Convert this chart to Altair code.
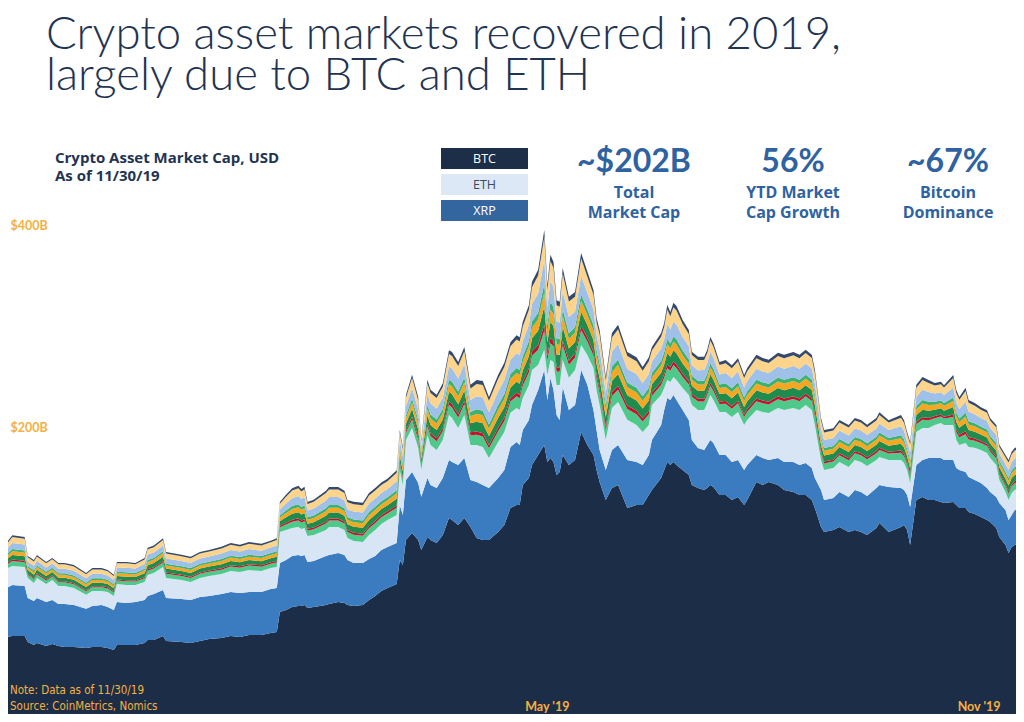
import altair as alt
import pandas as pd

# ---------------- data ----------------
# days since 2019-01-01
day_offsets = [
    0, 2, 4, 8, 9, 11, 12, 15, 17, 19, 21, 24, 28, 30, 33, 35, 37, 38, 41, 44,
    47, 48, 50, 53, 54, 59, 62, 65, 68, 72, 75, 78, 81, 85, 88, 90,
    91, 93, 95, 97, 98, 99, 100, 102, 106, 107, 110, 112, 113, 115, 118, 120, 122, 124, 126, 129,
    130, 131, 132, 134, 136, 137, 139, 140, 142, 144, 146, 147, 149, 151, 153, 155, 157, 159, 162, 164,
    166, 168, 169,
    170, 172, 173, 175, 177, 178, 179, 180, 181, 182, 183, 185, 187, 189, 191, 193, 194, 195, 197, 199,
    201, 204, 207, 209, 211,
    212, 215, 216, 217, 218, 219, 220, 222, 224, 225, 227, 229, 230, 231, 232, 234, 236, 238, 240, 242,
    243, 246, 248, 250, 253, 255, 258, 260, 262, 264, 265, 267, 268, 271, 273, 276, 278, 280, 282, 285,
    286, 289, 293, 294, 295, 296, 298, 300, 302, 304, 306, 307, 310, 311, 312, 314, 315, 317, 319, 321,
    322, 324, 325, 327, 328, 329, 330, 332, 333,
]

# market caps, $B
btc = [
    60.0, 60.7, 61.4, 61.4, 57.1, 55.0, 56.4, 54.3, 55.7, 54.3, 53.6, 53.6, 52.9, 53.6, 53.6, 52.9, 51.4, 55.0, 55.0, 55.0,
    56.4, 58.6, 58.6, 61.4, 57.9, 57.1, 56.4, 57.9, 59.3, 60.0, 61.4, 60.7, 62.1, 62.1, 63.6, 64.3,
    78.6, 80.0, 82.1, 82.9, 82.9, 83.6, 81.4, 82.1, 83.6, 84.3, 85.7, 85.0, 83.6, 82.9, 83.6, 87.1, 90.0, 93.6, 95.7, 98.6,
    115.7, 112.1, 130.0, 135.0, 130.0, 122.9, 132.1, 130.0, 127.9, 133.6, 145.7, 144.3, 140.7, 145.7, 139.3, 131.4, 130.0, 130.0, 135.7, 140.7,
    152.9, 155.0, 155.0,
    169.3, 174.3, 183.6, 190.7, 197.9, 185.7, 188.6, 185.7, 176.4, 178.6, 190.7, 183.6, 187.1, 207.1, 197.9, 190.7, 180.0, 171.4, 158.6, 167.1,
    169.3, 152.9, 155.0, 155.0, 162.1,
    165.7, 174.3, 180.0, 185.7, 183.6, 185.7, 183.6, 180.0, 176.4, 169.3, 167.1, 165.7, 167.1, 169.3, 167.9, 162.1, 162.1, 158.6, 160.7, 155.0,
    158.6, 171.4, 169.3, 171.4, 169.3, 165.7, 164.3, 162.1, 162.1, 158.6, 152.9, 139.3, 135.7, 137.1, 139.3, 135.7, 137.1, 135.7, 133.6, 138.6,
    142.1, 135.7, 139.3, 140.7, 137.1, 126.4, 158.6, 160.7, 158.6, 158.6, 157.1, 156.4, 157.1, 155.0, 152.9, 152.9, 150.0, 148.6, 146.4, 144.3,
    142.9, 138.6, 132.1, 126.4, 120.7, 125.0, 126.4, 127.9, 128.6,
]
xrp = [
    37.1, 35.0, 36.4, 35.7, 31.4, 31.4, 32.1, 31.4, 31.4, 30.0, 30.7, 30.0, 27.9, 29.3, 30.0, 29.3, 28.6, 30.7, 30.0, 30.7,
    30.7, 31.4, 32.9, 32.9, 30.7, 30.7, 30.7, 31.4, 30.7, 31.4, 31.4, 31.4, 30.7, 30.7, 31.4, 31.4,
    35.0, 35.7, 36.4, 36.4, 35.7, 35.7, 32.9, 32.9, 35.0, 35.0, 35.0, 34.3, 32.1, 30.7, 30.0, 29.3, 28.6, 29.3, 29.3, 29.3,
    39.3, 35.7, 42.9, 43.6, 40.7, 37.9, 42.1, 39.3, 39.3, 40.7, 41.4, 41.4, 42.9, 42.9, 33.6, 40.0, 39.3, 37.1, 38.6, 39.3,
    43.6, 45.0, 42.9,
    39.3, 41.4, 42.9, 46.4, 53.6, 44.3, 57.1, 51.4, 42.9, 37.1, 48.6, 39.3, 39.3, 44.3, 42.9, 32.1, 28.6, 22.9, 21.4, 27.1,
    28.6, 34.3, 30.7, 28.6, 28.6,
    35.7, 37.9, 42.9, 45.7, 46.4, 47.9, 46.4, 42.9, 39.3, 32.1, 28.6, 28.6, 30.7, 32.1, 31.4, 28.6, 28.6, 27.1, 26.4, 25.0,
    25.0, 19.3, 19.3, 15.7, 19.3, 20.0, 21.4, 21.4, 22.9, 22.9, 21.4, 26.4, 22.9, 22.9, 25.0, 25.0, 28.6, 28.6, 27.9, 28.6,
    27.1, 32.1, 27.9, 25.0, 25.0, 27.1, 25.0, 26.4, 30.0, 30.0, 31.4, 30.7, 30.0, 26.4, 27.1, 25.7, 25.0, 24.3, 24.3, 22.9,
    21.4, 22.1, 24.3, 25.0, 23.6, 22.9, 25.0, 25.7, 26.4,
]
eth = [
    12.9, 13.6, 13.6, 13.6, 14.3, 12.9, 14.3, 12.9, 14.3, 12.9, 12.9, 12.1, 10.0, 10.7, 10.0, 10.7, 10.0, 12.9, 12.9, 12.1,
    12.9, 15.0, 15.0, 16.4, 14.3, 13.6, 12.9, 13.6, 14.3, 14.3, 15.0, 15.0, 15.7, 15.0, 15.0, 15.0,
    22.1, 21.4, 20.0, 20.0, 19.3, 19.3, 18.6, 18.6, 18.6, 20.0, 18.6, 17.9, 15.7, 15.7, 15.0, 17.1, 18.6, 18.6, 19.3, 20.0,
    25.0, 21.4, 28.6, 31.4, 25.0, 19.3, 30.7, 28.6, 27.1, 27.1, 32.1, 31.4, 26.4, 30.7, 25.0, 26.4, 27.1, 21.4, 25.7, 27.1,
    24.3, 24.3, 25.0,
    22.9, 25.0, 25.0, 17.9, 14.3, 17.9, 12.9, 20.0, 21.4, 25.0, 19.3, 22.9, 25.0, 17.9, 21.4, 30.0, 28.6, 32.1, 21.4, 30.0,
    30.7, 28.6, 26.4, 23.6, 21.4,
    25.0, 21.4, 15.7, 12.9, 12.9, 12.9, 14.3, 15.7, 17.9, 25.0, 27.1, 28.6, 30.0, 32.1, 30.7, 30.7, 30.7, 32.1, 34.3, 32.1,
    32.1, 32.1, 32.9, 33.6, 35.7, 37.1, 38.6, 39.3, 41.4, 41.4, 37.9, 21.4, 21.4, 21.4, 21.4, 21.4, 21.4, 21.4, 21.4, 20.0,
    20.0, 19.3, 20.0, 19.3, 17.9, 17.1, 23.6, 22.9, 21.4, 23.6, 25.0, 25.0, 25.0, 20.0, 17.9, 20.7, 21.4, 22.9, 23.6, 25.0,
    24.3, 22.9, 16.4, 12.9, 14.3, 15.7, 14.3, 13.6, 12.9,
]
ltc = [
    3.1, 3.0, 3.5, 3.4, 2.5, 2.6, 2.6, 2.5, 2.5, 2.6, 2.6, 2.6, 2.5, 2.6, 2.6, 2.5, 2.4, 2.5, 2.6, 2.5,
    2.7, 3.1, 3.1, 3.3, 3.0, 2.9, 2.9, 3.0, 3.0, 3.1, 3.2, 3.1, 3.2, 3.1, 3.1, 3.3,
    3.4, 4.0, 4.6, 4.7, 4.6, 4.7, 3.9, 4.0, 4.5, 4.6, 4.6, 4.5, 4.3, 4.5, 4.5, 4.8, 4.8, 4.7, 4.7, 5.1,
    4.6, 4.3, 5.1, 6.1, 5.8, 3.4, 6.3, 6.3, 6.3, 6.5, 7.4, 7.5, 7.5, 7.8, 6.9, 7.4, 7.5, 7.0, 7.7, 7.9,
    8.1, 8.3, 8.3,
    8.7, 9.1, 10.1, 10.9, 13.7, 10.3, 12.0, 11.4, 9.7, 9.5, 10.5, 9.3, 8.9, 10.5, 9.5, 8.9, 8.2, 8.6, 7.2, 8.6,
    8.8, 7.8, 7.8, 7.4, 7.8,
    6.6, 7.1, 7.4, 8.6, 8.0, 8.5, 8.5, 7.8, 7.4, 6.1, 6.1, 6.1, 6.1, 6.6, 6.5, 5.7, 5.9, 5.9, 6.2, 5.7,
    5.9, 6.3, 6.2, 6.1, 6.3, 6.3, 6.4, 6.3, 6.3, 6.3, 6.3, 4.8, 4.6, 4.6, 4.8, 4.8, 4.8, 4.8, 4.7, 4.8,
    5.1, 4.6, 5.1, 4.9, 4.3, 4.7, 5.4, 5.8, 5.5, 4.8, 4.7, 4.6, 5.7, 5.7, 5.5, 6.3, 5.4, 5.1, 4.9, 4.9,
    4.6, 4.6, 4.0, 4.2, 4.6, 4.7, 4.8, 4.9, 5.0,
]
bsv = [
    1.0, 0.9, 1.1, 1.1, 0.8, 0.8, 0.8, 0.8, 0.8, 0.8, 0.8, 0.8, 0.8, 0.8, 0.8, 0.8, 0.8, 0.8, 0.8, 0.8,
    0.9, 1.0, 1.0, 1.0, 0.9, 0.9, 0.9, 0.9, 0.9, 1.0, 1.0, 1.0, 1.0, 1.0, 1.0, 1.0,
    1.1, 1.3, 1.4, 1.5, 1.4, 1.5, 1.2, 1.3, 1.4, 1.4, 1.4, 1.4, 1.4, 1.4, 1.4, 1.5, 1.5, 1.5, 1.5, 1.6,
    1.4, 1.4, 1.6, 1.9, 1.8, 1.1, 2.0, 2.0, 2.0, 2.0, 2.3, 2.4, 2.4, 2.4, 2.1, 2.3, 2.4, 2.2, 2.4, 2.5,
    2.5, 2.6, 2.6,
    2.7, 2.9, 3.1, 3.4, 4.3, 3.2, 3.8, 3.6, 3.0, 3.0, 3.3, 2.9, 2.8, 3.3, 3.0, 2.8, 2.6, 2.7, 2.3, 2.7,
    2.8, 2.4, 2.4, 2.3, 2.4,
    2.1, 2.2, 2.3, 2.7, 2.5, 2.6, 2.6, 2.4, 2.3, 1.9, 1.9, 1.9, 1.9, 2.1, 2.0, 1.8, 1.9, 1.9, 1.9, 1.8,
    1.9, 2.0, 1.9, 1.9, 2.0, 2.0, 2.0, 2.0, 2.0, 2.0, 2.0, 1.5, 1.4, 1.4, 1.5, 1.5, 1.5, 1.5, 1.5, 1.5,
    1.6, 1.4, 1.6, 1.5, 1.4, 1.5, 1.7, 1.8, 1.7, 1.5, 1.5, 1.4, 1.8, 1.8, 1.7, 2.0, 1.7, 1.6, 1.5, 1.5,
    1.4, 1.4, 1.3, 1.3, 1.4, 1.5, 1.5, 1.5, 1.6,
]
eos = [
    2.9, 2.8, 3.3, 3.2, 2.4, 2.5, 2.5, 2.4, 2.4, 2.5, 2.5, 2.5, 2.4, 2.5, 2.5, 2.4, 2.3, 2.4, 2.5, 2.4,
    2.6, 2.9, 2.9, 3.1, 2.8, 2.7, 2.7, 2.8, 2.8, 2.9, 3.0, 2.9, 3.0, 2.9, 2.9, 3.1,
    3.2, 3.8, 4.3, 4.4, 4.3, 4.4, 3.6, 3.8, 4.2, 4.3, 4.3, 4.2, 4.1, 4.2, 4.2, 4.5, 4.5, 4.4, 4.4, 4.8,
    4.3, 4.1, 4.8, 5.7, 5.5, 3.2, 5.9, 5.9, 5.9, 6.1, 7.0, 7.1, 7.1, 7.3, 6.4, 7.0, 7.1, 6.5, 7.2, 7.4,
    7.6, 7.8, 7.8,
    8.1, 8.6, 9.4, 10.2, 12.9, 9.6, 11.3, 10.7, 9.1, 8.9, 9.9, 8.7, 8.4, 9.9, 8.9, 8.4, 7.7, 8.0, 6.8, 8.0,
    8.3, 7.3, 7.3, 7.0, 7.3,
    6.2, 6.6, 7.0, 8.0, 7.5, 7.9, 7.9, 7.3, 7.0, 5.7, 5.7, 5.7, 5.7, 6.2, 6.1, 5.4, 5.6, 5.6, 5.8, 5.4,
    5.6, 5.9, 5.8, 5.7, 5.9, 5.9, 6.0, 5.9, 5.9, 5.9, 5.9, 4.5, 4.3, 4.3, 4.5, 4.5, 4.5, 4.5, 4.4, 4.5,
    4.8, 4.3, 4.8, 4.6, 4.1, 4.4, 5.0, 5.5, 5.1, 4.5, 4.4, 4.3, 5.4, 5.4, 5.1, 5.9, 5.0, 4.8, 4.6, 4.6,
    4.3, 4.3, 3.8, 4.0, 4.3, 4.4, 4.5, 4.6, 4.7,
]
bch = [
    2.3, 2.2, 2.7, 2.6, 1.9, 2.0, 2.0, 1.9, 1.9, 2.0, 2.0, 2.0, 1.9, 2.0, 2.0, 1.9, 1.8, 1.9, 2.0, 1.9,
    2.1, 2.3, 2.3, 2.5, 2.2, 2.1, 2.1, 2.2, 2.2, 2.3, 2.4, 2.3, 2.4, 2.3, 2.3, 2.5,
    2.6, 3.0, 3.4, 3.5, 3.4, 3.5, 2.9, 3.0, 3.3, 3.4, 3.4, 3.3, 3.3, 3.3, 3.3, 3.6, 3.6, 3.5, 3.5, 3.9,
    3.4, 3.3, 3.9, 4.5, 4.4, 2.6, 4.7, 4.7, 4.7, 4.9, 5.6, 5.7, 5.7, 5.8, 5.1, 5.6, 5.7, 5.2, 5.7, 5.9,
    6.1, 6.3, 6.3,
    6.5, 6.9, 7.5, 8.1, 10.3, 7.7, 9.0, 8.6, 7.3, 7.1, 7.9, 6.9, 6.7, 7.9, 7.1, 6.7, 6.2, 6.4, 5.4, 6.4,
    6.6, 5.8, 5.8, 5.6, 5.8,
    5.0, 5.3, 5.6, 6.4, 6.0, 6.3, 6.3, 5.8, 5.6, 4.5, 4.5, 4.5, 4.5, 5.0, 4.9, 4.3, 4.5, 4.5, 4.6, 4.3,
    4.5, 4.7, 4.6, 4.5, 4.7, 4.7, 4.8, 4.7, 4.7, 4.7, 4.7, 3.6, 3.4, 3.4, 3.6, 3.6, 3.6, 3.6, 3.5, 3.6,
    3.9, 3.4, 3.9, 3.7, 3.3, 3.5, 4.0, 4.4, 4.1, 3.6, 3.5, 3.4, 4.3, 4.3, 4.1, 4.7, 4.0, 3.9, 3.7, 3.7,
    3.4, 3.4, 3.0, 3.2, 3.4, 3.5, 3.6, 3.7, 3.8,
]
bnb = [
    1.4, 1.3, 1.5, 1.5, 1.1, 1.1, 1.1, 1.1, 1.1, 1.1, 1.1, 1.1, 1.1, 1.1, 1.1, 1.1, 1.1, 1.1, 1.1, 1.1,
    1.2, 1.4, 1.4, 1.4, 1.3, 1.3, 1.3, 1.3, 1.3, 1.4, 1.4, 1.4, 1.4, 1.4, 1.4, 1.4,
    1.5, 1.8, 2.0, 2.1, 2.0, 2.1, 1.7, 1.8, 2.0, 2.0, 2.0, 2.0, 1.9, 2.0, 2.0, 2.1, 2.1, 2.1, 2.1, 2.2,
    2.0, 1.9, 2.2, 2.7, 2.5, 1.5, 2.8, 2.8, 2.8, 2.8, 3.2, 3.3, 3.3, 3.4, 3.0, 3.2, 3.3, 3.1, 3.4, 3.5,
    3.5, 3.6, 3.6,
    3.8, 4.0, 4.4, 4.8, 6.0, 4.5, 5.3, 5.0, 4.2, 4.2, 4.6, 4.1, 3.9, 4.6, 4.2, 3.9, 3.6, 3.8, 3.2, 3.8,
    3.9, 3.4, 3.4, 3.2, 3.4,
    2.9, 3.1, 3.2, 3.8, 3.5, 3.7, 3.7, 3.4, 3.2, 2.7, 2.7, 2.7, 2.7, 2.9, 2.8, 2.5, 2.6, 2.6, 2.7, 2.5,
    2.6, 2.8, 2.7, 2.7, 2.8, 2.8, 2.8, 2.8, 2.8, 2.8, 2.8, 2.1, 2.0, 2.0, 2.1, 2.1, 2.1, 2.1, 2.1, 2.1,
    2.2, 2.0, 2.2, 2.1, 1.9, 2.1, 2.4, 2.5, 2.4, 2.1, 2.1, 2.0, 2.5, 2.5, 2.4, 2.8, 2.4, 2.2, 2.1, 2.1,
    2.0, 2.0, 1.8, 1.8, 2.0, 2.1, 2.1, 2.1, 2.2,
]
trx = [
    3.9, 3.7, 4.4, 4.3, 3.1, 3.3, 3.3, 3.1, 3.1, 3.3, 3.3, 3.3, 3.1, 3.3, 3.3, 3.1, 3.0, 3.1, 3.3, 3.1,
    3.4, 3.9, 3.9, 4.1, 3.7, 3.6, 3.6, 3.7, 3.7, 3.9, 4.0, 3.9, 4.0, 3.9, 3.9, 4.1,
    4.3, 5.0, 5.7, 5.9, 5.7, 5.9, 4.9, 5.0, 5.6, 5.7, 5.7, 5.6, 5.4, 5.6, 5.6, 6.0, 6.0, 5.9, 5.9, 6.4,
    5.7, 5.4, 6.4, 7.6, 7.3, 4.3, 7.9, 7.9, 7.9, 8.1, 9.3, 9.4, 9.4, 9.7, 8.6, 9.3, 9.4, 8.7, 9.6, 9.9,
    10.1, 10.4, 10.4,
    10.9, 11.4, 12.6, 13.6, 17.1, 12.9, 15.0, 14.3, 12.1, 11.9, 13.1, 11.6, 11.1, 13.1, 11.9, 11.1, 10.3, 10.7, 9.0, 10.7,
    11.0, 9.7, 9.7, 9.3, 9.7,
    8.3, 8.9, 9.3, 10.7, 10.0, 10.6, 10.6, 9.7, 9.3, 7.6, 7.6, 7.6, 7.6, 8.3, 8.1, 7.1, 7.4, 7.4, 7.7, 7.1,
    7.4, 7.9, 7.7, 7.6, 7.9, 7.9, 8.0, 7.9, 7.9, 7.9, 7.9, 6.0, 5.7, 5.7, 6.0, 6.0, 6.0, 6.0, 5.9, 6.0,
    6.4, 5.7, 6.4, 6.1, 5.4, 5.9, 6.7, 7.3, 6.9, 6.0, 5.9, 5.7, 7.1, 7.1, 6.9, 7.9, 6.7, 6.4, 6.1, 6.1,
    5.7, 5.7, 5.0, 5.3, 5.7, 5.9, 6.0, 6.1, 6.3,
]
xlm = [
    3.7, 3.5, 4.2, 4.1, 3.0, 3.1, 3.1, 3.0, 3.0, 3.1, 3.1, 3.1, 3.0, 3.1, 3.1, 3.0, 2.9, 3.0, 3.1, 3.0,
    3.2, 3.7, 3.7, 3.9, 3.5, 3.4, 3.4, 3.5, 3.5, 3.7, 3.8, 3.7, 3.8, 3.7, 3.7, 3.9,
    4.1, 4.8, 5.4, 5.6, 5.4, 5.6, 4.6, 4.8, 5.3, 5.4, 5.4, 5.3, 5.1, 5.3, 5.3, 5.7, 5.7, 5.6, 5.6, 6.1,
    5.4, 5.1, 6.1, 7.2, 6.9, 4.1, 7.5, 7.5, 7.5, 7.7, 8.8, 8.9, 8.9, 9.2, 8.2, 8.8, 8.9, 8.3, 9.1, 9.4,
    9.6, 9.9, 9.9,
    10.3, 10.8, 12.0, 12.9, 16.3, 12.2, 14.3, 13.6, 11.5, 11.3, 12.5, 11.0, 10.6, 12.5, 11.3, 10.6, 9.8, 10.2, 8.6, 10.2,
    10.5, 9.2, 9.2, 8.8, 9.2,
    7.9, 8.4, 8.8, 10.2, 9.5, 10.1, 10.1, 9.2, 8.8, 7.2, 7.2, 7.2, 7.2, 7.9, 7.7, 6.8, 7.0, 7.0, 7.3, 6.8,
    7.0, 7.5, 7.3, 7.2, 7.5, 7.5, 7.6, 7.5, 7.5, 7.5, 7.5, 5.7, 5.4, 5.4, 5.7, 5.7, 5.7, 5.7, 5.6, 5.7,
    6.1, 5.4, 6.1, 5.8, 5.1, 5.6, 6.4, 6.9, 6.5, 5.7, 5.6, 5.4, 6.8, 6.8, 6.5, 7.5, 6.4, 6.1, 5.8, 5.8,
    5.4, 5.4, 4.8, 5.0, 5.4, 5.6, 5.7, 5.8, 6.0,
]
ada = [
    1.2, 1.1, 1.3, 1.3, 0.9, 1.0, 1.0, 0.9, 0.9, 1.0, 1.0, 1.0, 0.9, 1.0, 1.0, 0.9, 0.9, 0.9, 1.0, 0.9,
    1.0, 1.2, 1.2, 1.2, 1.1, 1.1, 1.1, 1.1, 1.1, 1.2, 1.2, 1.2, 1.2, 1.2, 1.2, 1.2,
    1.3, 1.5, 1.7, 1.8, 1.7, 1.8, 1.5, 1.5, 1.7, 1.7, 1.7, 1.7, 1.6, 1.7, 1.7, 1.8, 1.8, 1.8, 1.8, 1.9,
    1.7, 1.6, 1.9, 2.3, 2.2, 1.3, 2.4, 2.4, 2.4, 2.4, 2.8, 2.8, 2.8, 2.9, 2.6, 2.8, 2.8, 2.6, 2.9, 3.0,
    3.0, 3.1, 3.1,
    3.3, 3.4, 3.8, 4.1, 5.1, 3.9, 4.5, 4.3, 3.6, 3.6, 3.9, 3.5, 3.3, 3.9, 3.6, 3.3, 3.1, 3.2, 2.7, 3.2,
    3.3, 2.9, 2.9, 2.8, 2.9,
    2.5, 2.7, 2.8, 3.2, 3.0, 3.2, 3.2, 2.9, 2.8, 2.3, 2.3, 2.3, 2.3, 2.5, 2.4, 2.1, 2.2, 2.2, 2.3, 2.1,
    2.2, 2.4, 2.3, 2.3, 2.4, 2.4, 2.4, 2.4, 2.4, 2.4, 2.4, 1.8, 1.7, 1.7, 1.8, 1.8, 1.8, 1.8, 1.8, 1.8,
    1.9, 1.7, 1.9, 1.8, 1.6, 1.8, 2.0, 2.2, 2.1, 1.8, 1.8, 1.7, 2.1, 2.1, 2.1, 2.4, 2.0, 1.9, 1.8, 1.8,
    1.7, 1.7, 1.5, 1.6, 1.7, 1.8, 1.8, 1.8, 1.9,
]

coins = ["BTC", "XRP", "ETH", "LTC", "BSV", "EOS", "BCH", "BNB", "TRX", "XLM", "ADA"]
series = [btc, xrp, eth, ltc, bsv, eos, bch, bnb, trx, xlm, ada]
coin_colors = ["#1c2e47", "#3b7cc0", "#d7e5f4", "#4fc98a", "#c8102e", "#1f8b4d",
               "#f5a623", "#3bb26e", "#9fc0e8", "#fdd48b", "#34496b"]

legend_names = ["BTC", "ETH", "XRP"]
legend_fills = ["#1d2f48", "#dce8f5", "#33659f"]
legend_text_colors = ["#ffffff", "#3c4b5e", "#ffffff"]

x_tick_labels = ["May '19", "Nov '19"]
y_tick_values = [210.0, 354.3]
y_tick_labels = ["$200B", "$400B"]

stat_values = ["~$202B", "56%", "~67%"]
stat_captions = [["Total", "Market Cap"], ["YTD Market", "Cap Growth"], ["Bitcoin", "Dominance"]]

# ---------------- table ----------------
dates = pd.Timestamp("2019-01-01") + pd.to_timedelta(day_offsets, unit="D")
frames = []
for i, (name, vals) in enumerate(zip(coins, series)):
    assert len(vals) == len(day_offsets), (name, len(vals))
    frames.append(pd.DataFrame({"date": dates, "coin": name, "value": vals, "order": i}))
df = pd.concat(frames, ignore_index=True)

W, H = 1008, 706
NAVY = "#1f3452"
BLUE = "#2e62a1"
ORANGE = "#f5b042"

x_axis = alt.Axis(
    title=None, grid=False, domain=False, ticks=False, tickSize=0,
    values=[alt.DateTime(year=2019, month=6, date=27, hours=20),
            alt.DateTime(year=2019, month=11, date=15, hours=6)],
    labelExpr="month(datum.value) < 8 ? \"%s\" : \"%s\"" % (x_tick_labels[0], x_tick_labels[1]),
    labelPadding=-4, labelBaseline="alphabetic", labelAlign="center",
    labelFont="Lato", labelFontWeight="bold", labelFontSize=12.5, labelColor=ORANGE,
    labelOverlap=False, labelFlush=False, zindex=2,
)
y_axis = alt.Axis(
    title=None, grid=False, domain=False, ticks=False, tickSize=0,
    values=y_tick_values,
    labelExpr="datum.value > 300 ? '%s' : '%s'" % (y_tick_labels[1], y_tick_labels[0]),
    labelPadding=-2, labelAlign="left", labelBaseline="middle",
    labelFont="Lato", labelFontWeight="bold", labelFontSize=12.5, labelColor=ORANGE,
    labelOverlap=False, labelFlush=False, zindex=2,
)

area = alt.Chart(df).mark_area(clip=True).encode(
    x=alt.X("date:T", axis=x_axis, scale=alt.Scale(
        domain=[alt.DateTime(year=2019, month=1, date=3, hours=14),
                alt.DateTime(year=2019, month=11, date=27, hours=10)], nice=False)),
    y=alt.Y("value:Q", stack="zero", axis=y_axis,
            scale=alt.Scale(domain=[5.7, 510.0], nice=False, zero=False)),
    color=alt.Color("coin:N", scale=alt.Scale(domain=coins, range=coin_colors), legend=None),
    order=alt.Order("order:Q", sort="ascending"),
)

one = pd.DataFrame({"k": [0]})


def txt(text, x, y, size, color, weight="normal", align="left", baseline="alphabetic",
        font="Lato", line_height=None):
    kw = dict(align=align, baseline=baseline, font=font, fontSize=size,
              fontWeight=weight, color=color)
    if line_height is not None:
        kw["lineHeight"] = line_height
    return alt.Chart(one).mark_text(**kw).encode(
        x=alt.value(x), y=alt.value(y), text=alt.value(text))


layers = [area]
layers.append(txt("Crypto asset markets recovered in 2019,", 38, 41, 45.5, NAVY, weight=300))
layers.append(txt("largely due to BTC and ETH", 38, 82, 45.5, NAVY, weight=300))
layers.append(txt(["Crypto Asset Market Cap, USD", "As of 11/30/19"],
                  47, 155, 15, NAVY, weight="bold", font="Open Sans", line_height=18))

for i, name in enumerate(legend_names):
    y0 = 140 + i * 26
    layers.append(alt.Chart(one).mark_rect(color=legend_fills[i]).encode(
        x=alt.value(433), x2=alt.value(520), y=alt.value(y0), y2=alt.value(y0 + 21)))
    layers.append(txt(name, 476.5, y0 + 11, 12.5, legend_text_colors[i],
                      align="center", baseline="middle", font="Open Sans"))

for cx, val, cap in zip([626, 785, 940], stat_values, stat_captions):
    layers.append(txt(val, cx, 164, 32, BLUE, weight="bold", align="center"))
    layers.append(txt(cap, cx, 190, 16, BLUE, weight="bold", align="center",
                      font="Open Sans", line_height=20))

layers.append(txt(["Note: Data as of 11/30/19", "Source: CoinMetrics, Nomics"],
                  2, 686, 11.5, ORANGE,
                  font="Liberation Sans Narrow, DejaVu Sans Condensed, Lato", line_height=16))

chart = alt.layer(*layers).properties(
    width=W, height=H, padding=0, background="white",
    autosize=alt.AutoSizeParams(type="none"),
).configure_view(stroke=None)

chart.save("out.html", embed_options={"renderer": "svg", "actions": False})
